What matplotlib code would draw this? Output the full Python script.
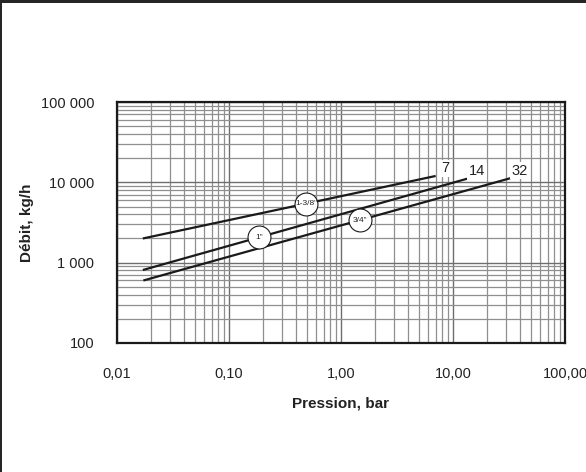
import matplotlib
matplotlib.use("Agg")
import matplotlib.pyplot as plt
import matplotlib.patches as mpatches
import numpy as np

# ---- data ----
sizes = ['1-3/8"', '1"', '3/4"']
end_labels = ['7', '14', '32']
p_start = [0.017, 0.017, 0.0172]
p_end = [7.0, 13.4, 32.5]
q_start = [2000, 810, 600]
q_end = [12000, 11100, 11250]
size_label_p = [0.49, 0.185, 1.48]

x_ticks = [0.01, 0.1, 1, 10, 100]
x_ticklabels = ['0,01', '0,10', '1,00', '10,00', '100,00']
y_ticks = [100, 1000, 10000, 100000]
y_ticklabels = ['100', '1 000', '10 000', '100 000']

plt.rcParams['font.family'] = ['Liberation Sans', 'DejaVu Sans']

W, H = 586, 472
fig = plt.figure(figsize=(W / 100, H / 100), dpi=100)
ax = fig.add_axes([117 / W, 1 - 343 / H, (565 - 117) / W, (343 - 102) / H])
ax.set_xscale('log')
ax.set_yscale('log')
ax.set_xlim(0.01, 100)
ax.set_ylim(100, 100000)

ax.grid(True, which='major', color='#6e6e6e', lw=1.0)
ax.grid(True, which='minor', color='#8f8f8f', lw=0.9)
ax.set_axisbelow(True)

tick_fs = 10.5
ax.set_xticks(x_ticks)
ax.set_xticklabels(x_ticklabels, fontsize=tick_fs, color='#222222')
ax.set_yticks(y_ticks)
ax.set_yticklabels(y_ticklabels, fontsize=tick_fs, color='#222222')
ax.tick_params(which='both', length=0)
ax.tick_params(axis='x', pad=17)
ax.tick_params(axis='y', pad=16.5)

for s in ax.spines.values():
    s.set_linewidth(1.6)
    s.set_color('#1a1a1a')

lab_fs = 11
ax.set_xlabel('Pression, bar', fontsize=lab_fs, fontweight='bold', color='#222222', labelpad=11.5)
ax.set_ylabel('Débit, kg/h', fontsize=lab_fs, fontweight='bold', color='#222222', labelpad=5)

for i in range(len(sizes)):
    xs = [p_start[i], p_end[i]]
    ys = [q_start[i], q_end[i]]
    ax.plot(xs, ys, color='#1a1a1a', lw=1.6, solid_capstyle='butt', zorder=3)
    # circle label on the line
    lp = size_label_p[i]
    t = (np.log10(lp) - np.log10(xs[0])) / (np.log10(xs[1]) - np.log10(xs[0]))
    lq = 10 ** (np.log10(ys[0]) + t * (np.log10(ys[1]) - np.log10(ys[0])))
    ax.plot([lp], [lq], marker='o', markersize=16.5, markerfacecolor='white',
            markeredgecolor='#1a1a1a', markeredgewidth=0.8, zorder=4)
    ax.text(lp, lq, sizes[i], fontsize=6, ha='center', va='center',
            color='#222222', zorder=5)
    ax.annotate(end_labels[i], xy=(xs[1], ys[1]), xytext=(7, 5.5), textcoords='offset points',
                ha='center', va='center', fontsize=tick_fs, color='#222222', zorder=5,
                bbox=dict(boxstyle='square,pad=0.1', fc='white', ec='none'))

# page frame (top and left dark edges)
fig.add_artist(mpatches.Rectangle((0, 1 - 3 / H), 1, 3 / H, transform=fig.transFigure,
                                  color='#262626', lw=0))
fig.add_artist(mpatches.Rectangle((0, 0), 2 / W, 1, transform=fig.transFigure,
                                  color='#262626', lw=0))

fig.savefig('out.png', dpi=100)
